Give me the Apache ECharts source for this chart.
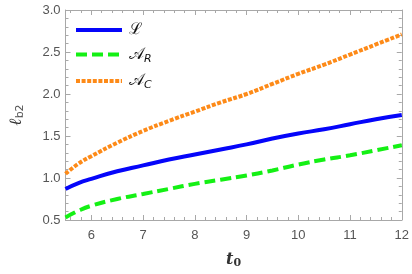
<!DOCTYPE html>
<html><head><meta charset="utf-8">
<script src="https://cdn.jsdelivr.net/npm/echarts@6/dist/echarts.min.js"></script>
<style>html,body{margin:0;padding:0;background:#fff}#c{width:412px;height:274px}</style>
</head><body><div id="c"></div>
<script>
const t0 = [5.5, 5.75, 6, 6.5, 7, 7.5, 8, 8.5, 9, 9.5, 10, 10.5, 11, 11.5, 12];
const lossL = [0.87, 0.94, 0.99, 1.08, 1.15, 1.22, 1.28, 1.34, 1.40, 1.47, 1.53, 1.58, 1.64, 1.70, 1.75];
const lossAR = [0.53, 0.61, 0.67, 0.75, 0.81, 0.87, 0.93, 0.98, 1.03, 1.09, 1.16, 1.22, 1.27, 1.33, 1.39];
const lossAC = [1.05, 1.17, 1.26, 1.42, 1.56, 1.68, 1.79, 1.90, 2.00, 2.12, 2.24, 2.35, 2.47, 2.59, 2.71];
const yTicks = [0.5, 1.0, 1.5, 2.0, 2.5, 3.0];
const xTicks = [6, 7, 8, 9, 10, 11, 12];

const axisCol = '#a8a8a8';
const labCol = '#555';
function pairs(ys){ return t0.map((x,i)=>[x, ys[i]]); }

const common = {
  axisLine:{show:true, lineStyle:{color:axisCol, width:1}},
  axisTick:{show:true, inside:true, length:5, lineStyle:{color:axisCol}},
  minorTick:{show:true, splitNumber:5, length:3, lineStyle:{color:axisCol}},
  splitLine:{show:false}
};

const blue = '#0505fa', green = '#14f014', orange = '#fd8a18';

const chart = echarts.init(document.getElementById('c'), null, {renderer:'canvas'});
chart.setOption({
  animation:false,
  grid:{left:56, right:9, top:10, bottom:50},
  legend:{
    orient:'vertical', left:69, top:17, itemWidth:46, itemHeight:14, itemGap:8.5,
    itemStyle:{opacity:0},
    lineStyle:{width:4},
    textStyle:{fontSize:16, color:'#111', fontFamily:'DejaVu Serif', padding:[0,0,0,2],
      rich:{s:{fontSize:11, fontStyle:'italic', fontFamily:'DejaVu Sans', color:'#111', verticalAlign:'bottom', padding:[9,0,0,0]}}},
    formatter: function(n){
      if(n==='L') return 'ℒ';
      if(n==='AR') return '𝒜{s|R}';
      return '𝒜{s|C}';
    },
    data:['L','AR','AC']
  },
  xAxis:[
    Object.assign({type:'value', min:5.5, max:12, position:'bottom',
      name:'{a|t}{b|0}', nameLocation:'middle', nameGap:30,
      nameTextStyle:{rich:{a:{fontFamily:'DejaVu Serif', fontWeight:'bold', fontStyle:'italic', fontSize:16, color:'#333'},
                           b:{fontFamily:'DejaVu Serif', fontWeight:'bold', fontSize:11, color:'#333', padding:[8,0,0,0]}}},
      axisLabel:{color:labCol, fontSize:13, fontFamily:'Liberation Sans', margin:9,
        formatter:function(v){ return xTicks.indexOf(v)>=0 ? String(v) : ''; }}
    }, common),
    Object.assign({type:'value', min:5.5, max:12, position:'top', axisLabel:{show:false}}, common)
  ],
  yAxis:[
    Object.assign({type:'value', min:0.5, max:3.0, interval:0.5, position:'left',
      name:'{a|ℓ}{b|b2}', nameLocation:'middle', nameGap:40, nameRotate:90,
      nameTextStyle:{rich:{a:{fontFamily:'DejaVu Serif', fontWeight:'bold', fontStyle:'italic', fontSize:17, color:'#333'},
                           b:{fontFamily:'DejaVu Sans', fontSize:11, color:'#555', padding:[7,0,0,0]}}},
      axisLabel:{color:labCol, fontSize:13, fontFamily:'Liberation Sans', margin:5,
        formatter:function(v){ return yTicks.indexOf(v)>=0 ? v.toFixed(1) : ''; }}
    }, common),
    Object.assign({type:'value', min:0.5, max:3.0, interval:0.5, position:'right', axisLabel:{show:false}}, common)
  ],
  series:[
    {name:'L', type:'line', data:pairs(lossL), smooth:true, showSymbol:false, symbol:'none',
      lineStyle:{color:blue, width:4}, itemStyle:{color:blue}},
    {name:'AR', type:'line', data:pairs(lossAR), smooth:true, showSymbol:false, symbol:'none',
      lineStyle:{color:green, width:4, type:[11,5]}, itemStyle:{color:green}},
    {name:'AC', type:'line', data:pairs(lossAC), smooth:true, showSymbol:false, symbol:'none',
      lineStyle:{color:orange, width:4, type:[4,1.6]}, itemStyle:{color:orange}}
  ]
});
</script></body></html>
